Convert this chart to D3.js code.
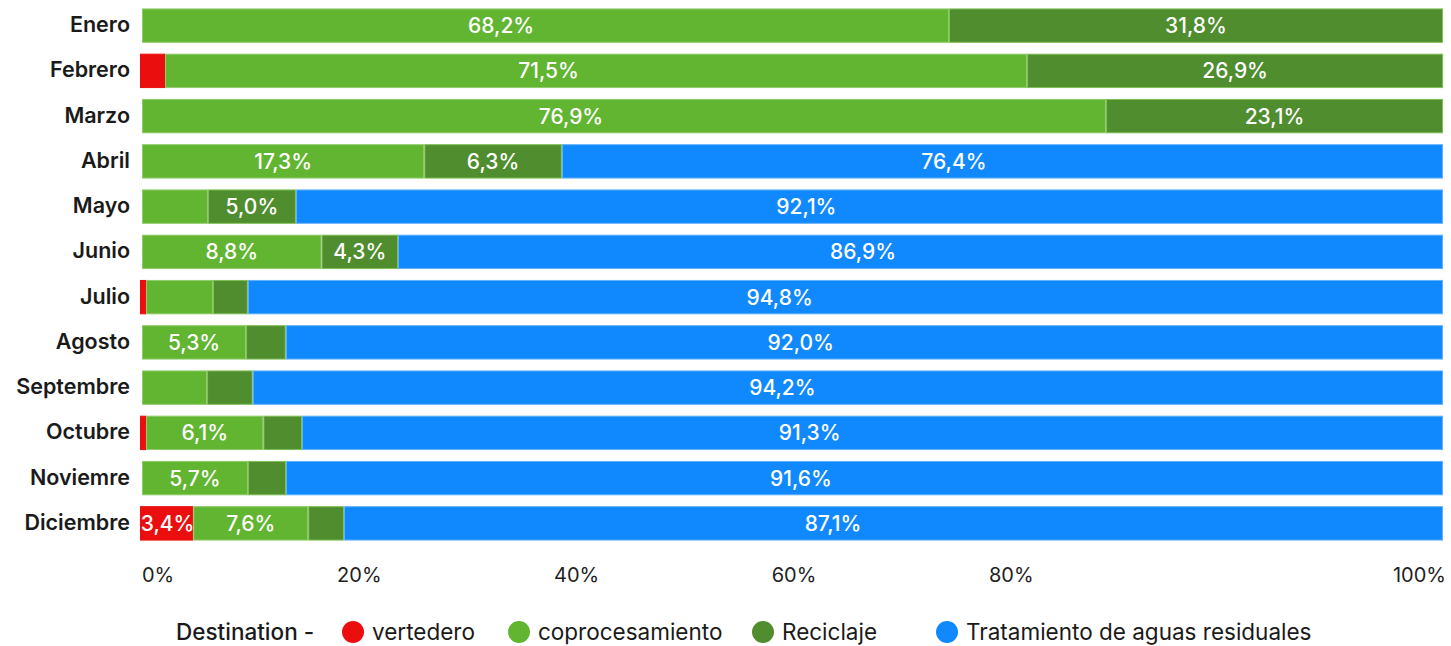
<!DOCTYPE html>
<html>
<head>
<meta charset="utf-8">
<script src="https://cdn.jsdelivr.net/npm/d3@7"></script>
<style>
  body { margin: 0; background: #fff; }
  svg { font-family: Inter, Lato, sans-serif; }
</style>
</head>
<body>
<svg id="canvas" width="1451" height="646"></svg>
<script>
//Months (rows)
var months = ["Enero", "Febrero", "Marzo", "Abril", "Mayo", "Junio", "Julio",
  "Agosto", "Septembre", "Octubre", "Noviemre", "Diciembre"];

//Bar lengths (share of the full bar, %)
var vertedero = [0, 1.77, 0, 0, 0, 0, 0.31, 0, 0, 0.31, 0, 3.94];
var coprocesamiento = [62.03, 66.26, 74.10, 21.70, 5.07, 13.80, 5.15, 8.00, 5.00, 9.02, 8.15, 8.84];
var reciclaje = [37.97, 31.98, 25.90, 10.57, 6.76, 5.88, 2.67, 3.05, 3.51, 2.97, 2.92, 2.74];
var tratamiento = [0, 0, 0, 67.73, 88.17, 80.32, 91.87, 88.95, 91.49, 87.70, 88.93, 84.48];

//Labels printed on the bars
var labVertedero = ["", "", "", "", "", "", "", "", "", "", "", "3,4%"];
var labCoprocesamiento = ["68,2%", "71,5%", "76,9%", "17,3%", "", "8,8%", "", "5,3%", "", "6,1%", "5,7%", "7,6%"];
var labReciclaje = ["31,8%", "26,9%", "23,1%", "6,3%", "5,0%", "4,3%", "", "", "", "", "", ""];
var labTratamiento = ["", "", "", "76,4%", "92,1%", "86,9%", "94,8%", "92,0%", "94,2%", "91,3%", "91,6%", "87,1%"];

//Axis tick labels (the source spaces them in sixths, 100% sits at the end)
var tickLabels = ["0%", "20%", "40%", "60%", "80%", "", "100%"];

//Legend
var legendTitle = "Destination -";
var seriesNames = ["vertedero", "coprocesamiento", "Reciclaje", "Tratamiento de aguas residuales"];
var keys = ["vertedero", "coprocesamiento", "reciclaje", "tratamiento"];
var colors = ["#eb0e0e", "#62b531", "#4f8d2e", "#1189fe"];
var strokes = ["#eb0e0e", "#8fcc6a", "#7fbf55", "#62b0ff"];

var svg = d3.select("#canvas");

var rows = months.map(function(m, i) {
  return {
    month: m,
    vertedero: vertedero[i], coprocesamiento: coprocesamiento[i],
    reciclaje: reciclaje[i], tratamiento: tratamiento[i],
    labels: [labVertedero[i], labCoprocesamiento[i], labReciclaje[i], labTratamiento[i]]
  };
});

var x = d3.scaleLinear().domain([0, 100]).range([142, 1443]);
var y = d3.scaleBand().domain(months).range([3, 546]).paddingInner(0.24).paddingOuter(0.12);

var series = d3.stack().keys(keys)(rows);

//Bars (the red ones start a touch further left in the source)
var layers = svg.append("g").selectAll("g")
  .data(series)
  .enter().append("g")
  .attr("fill", function(d, i) { return colors[i]; })
  .attr("stroke", function(d, i) { return strokes[i]; })
  .attr("stroke-width", 1);

layers.selectAll("rect")
  .data(function(d) { return d; })
  .enter().append("rect")
  .filter(function(d) { return d[1] - d[0] > 0; })
  .attr("x", function(d) { return d[0] === 0 && d.data.vertedero > 0 ? x(d[0]) - 1.5 : x(d[0]) + 0.5; })
  .attr("y", function(d) { return y(d.data.month) + 0.5; })
  .attr("width", function(d) {
    var w = x(d[1]) - x(d[0]) - 1;
    return Math.max(0, d[0] === 0 && d.data.vertedero > 0 ? w + 2 : w);
  })
  .attr("height", y.bandwidth() - 1);

//Labels inside the bars; long segments carry theirs a bit left of the middle
function labelX(d) {
  var x0 = x(d[0]), x1 = x(d[1]);
  var f = (x1 - x0) > 600 ? 0.445 : 0.5;
  return x0 + (x1 - x0) * f;
}
series.forEach(function(s, k) {
  svg.append("g").selectAll("text")
    .data(s.filter(function(d) { return d.data.labels[k] !== ""; }))
    .enter().append("text")
    .attr("x", labelX)
    .attr("y", function(d) { return y(d.data.month) + y.bandwidth() / 2; })
    .attr("dy", "0.36em")
    .attr("text-anchor", "middle")
    .attr("fill", "#fff")
    .style("font-size", "21px")
    .style("font-weight", "500")
    .text(function(d) { return d.data.labels[k]; });
});

//Month labels
svg.append("g").selectAll("text")
  .data(months)
  .enter().append("text")
  .attr("x", 130)
  .attr("y", function(d) { return y(d) + y.bandwidth() / 2; })
  .attr("dy", "0.3em")
  .attr("text-anchor", "end")
  .attr("fill", "#1a1a1a")
  .style("font-size", "21.5px")
  .style("font-weight", "600")
  .text(function(d) { return d; });

//Axis labels
var tickX = d3.scalePoint().domain(d3.range(tickLabels.length)).range([142, 1446]);
svg.append("g").selectAll("text")
  .data(d3.range(tickLabels.length))
  .enter().append("text")
  .attr("x", function(d) { return tickX(d); })
  .attr("y", 582)
  .attr("text-anchor", function(d) { return d === 0 ? "start" : (d === tickLabels.length - 1 ? "end" : "middle"); })
  .attr("fill", "#1e1e1e")
  .style("font-size", "20px")
  .text(function(d) { return tickLabels[d]; });

//Legend
var legend = svg.append("g").attr("transform", "translate(0,632)");
legend.append("text")
  .attr("x", 176).attr("dy", "0.36em")
  .attr("fill", "#1a1a1a")
  .style("font-size", "22.5px")
  .style("font-weight", "500")
  .text(legendTitle);

var legendX = [353, 519, 763, 947];
var item = legend.selectAll("g.item")
  .data(seriesNames)
  .enter().append("g")
  .attr("class", "item")
  .attr("transform", function(d, i) { return "translate(" + legendX[i] + ",0)"; });
item.append("circle").attr("r", 11).attr("fill", function(d, i) { return colors[i]; });
item.append("text")
  .attr("x", 19).attr("dy", "0.36em")
  .attr("fill", "#1a1a1a")
  .style("font-size", "22.5px")
  .text(function(d) { return d; });
</script>
</body>
</html>
